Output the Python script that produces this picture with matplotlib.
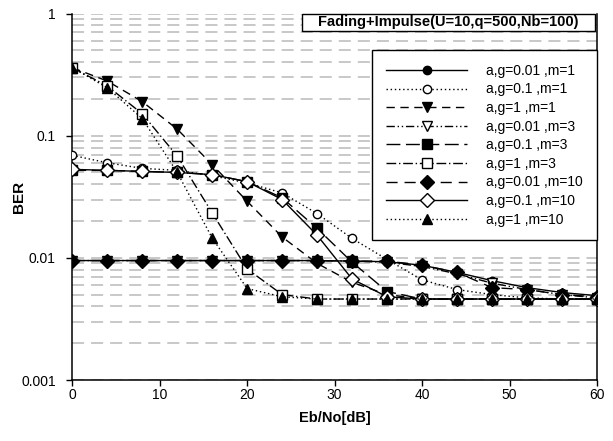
import matplotlib
matplotlib.use("Agg")
import matplotlib.pyplot as plt
from matplotlib.patches import Rectangle

plt.rcParams['font.family'] = ['Liberation Sans', 'DejaVu Sans']

# Eb/No points (dB)
ebno = [0, 4, 8, 12, 16, 20, 24, 28, 32, 36, 40, 44, 48, 52, 56, 60]

labels = ['a,g=0.01 ,m=1', 'a,g=0.1 ,m=1', 'a,g=1 ,m=1',
          'a,g=0.01 ,m=3', 'a,g=0.1 ,m=3', 'a,g=1 ,m=3',
          'a,g=0.01 ,m=10', 'a,g=0.1 ,m=10', 'a,g=1 ,m=10']

ber_g001_m1 = [0.0095, 0.0095, 0.0095, 0.0095, 0.0095, 0.0095, 0.0095, 0.0095,
               0.0094, 0.0093, 0.0087, 0.0076, 0.0065, 0.0057, 0.0052, 0.0049]
ber_g01_m1 = [0.069, 0.060, 0.054, 0.052, 0.047, 0.041, 0.034, 0.023,
              0.0144, 0.0097, 0.0066, 0.0055, 0.0050, 0.0047, 0.0046, 0.0046]
ber_g1_m1 = [0.36, 0.28, 0.19, 0.113, 0.058, 0.029, 0.0148, 0.0090,
             0.0063, 0.0050, 0.0046, 0.0046, 0.0046, 0.0046, 0.0046, 0.0046]
ber_g001_m3 = [0.0095, 0.0095, 0.0095, 0.0095, 0.0095, 0.0095, 0.0095, 0.0095,
               0.0094, 0.0092, 0.0085, 0.0074, 0.0062, 0.0055, 0.0050, 0.0047]
ber_g01_m3 = [0.052, 0.052, 0.051, 0.050, 0.048, 0.042, 0.031, 0.0174,
              0.0092, 0.0053, 0.0046, 0.0046, 0.0046, 0.0046, 0.0046, 0.0046]
ber_g1_m3 = [0.36, 0.255, 0.151, 0.068, 0.0233, 0.0081, 0.0050, 0.0046,
             0.0046, 0.0046, 0.0046, 0.0046, 0.0046, 0.0046, 0.0046, 0.0046]
ber_g001_m10 = [0.0095, 0.0095, 0.0095, 0.0095, 0.0095, 0.0095, 0.0095, 0.0095,
                0.0094, 0.0094, 0.0087, 0.0076, 0.0057, 0.0055, 0.0050, 0.0048]
ber_g01_m10 = [0.053, 0.052, 0.051, 0.050, 0.048, 0.042, 0.030, 0.0153,
               0.0067, 0.0048, 0.0046, 0.0046, 0.0046, 0.0046, 0.0046, 0.0046]
ber_g1_m10 = [0.36, 0.247, 0.138, 0.050, 0.0145, 0.0056, 0.0048, 0.0046,
              0.0046, 0.0046, 0.0046, 0.0046, 0.0046, 0.0046, 0.0046, 0.0046]

series = [ber_g001_m1, ber_g01_m1, ber_g1_m1, ber_g001_m3, ber_g01_m3,
          ber_g1_m3, ber_g001_m10, ber_g01_m10, ber_g1_m10]

# marker, filled, linestyle, markersize
styles = [
    ('o', True, '-', 6),
    ('o', False, (0, (1, 2)), 6),
    ('v', True, (0, (6, 4)), 7.5),
    ('v', False, (0, (6, 2, 1, 2, 1, 2)), 7.5),
    ('s', True, (0, (10, 4)), 6.5),
    ('s', False, (0, (7, 2, 1, 2)), 6.5),
    ('D', True, (0, (8, 5)), 7),
    ('D', False, '-', 7),
    ('^', True, (0, (1, 2)), 7.5),
]

fig = plt.figure(figsize=(6.13, 4.41), dpi=100)
ax = fig.add_axes([72.3 / 613, 1 - 380 / 441, (597 - 72.3) / 613, (380 - 13.5) / 441])

for ys, lab, (mk, filled, ls, ms) in zip(series, labels, styles):
    ax.plot(ebno, ys, color='black', lw=1, ls=ls, marker=mk, ms=ms,
            mfc='black' if filled else 'white', mec='black', mew=1,
            label=lab, zorder=3)

ax.set_yscale('log')
ax.set_ylim(0.001, 1)
ax.set_xlim(0, 60)
ax.set_yticks([0.001, 0.01, 0.1, 1])
ax.set_yticklabels(['0.001', '0.01', '0.1', '1'])
ax.set_xticks(range(0, 61, 10))
ax.tick_params(axis='both', which='major', direction='out', length=4,
               width=1, labelsize=10, colors='black')
ax.tick_params(axis='y', which='major', pad=8)
ax.tick_params(axis='x', which='major', pad=2)
ax.tick_params(axis='y', which='minor', length=0)

ax.yaxis.grid(True, which='both', color='#c8c8c8', lw=1.4, ls=(0, (6.2, 3.6)))
ax.xaxis.grid(False)
ax.set_axisbelow(True)

ax.spines['top'].set_visible(False)
for s in ['left', 'bottom', 'right']:
    ax.spines[s].set_color('black')
    ax.spines[s].set_linewidth(1.1)

ax.set_xlabel('Eb/No[dB]', fontsize=10.5, fontweight='bold', labelpad=6)
ax.set_ylabel('BER', fontsize=11, fontweight='bold')
ax.yaxis.set_label_coords(-0.088, 0.5)

# title box in the upper right corner of the plot area
ax.add_patch(Rectangle((0.4378, 0.951), 0.5584, 0.049, transform=ax.transAxes,
                       facecolor='white', edgecolor='black', lw=1,
                       clip_on=False, zorder=5))
ax.text(0.4378 + 0.5584 / 2, 0.951 + 0.049 / 2, 'Fading+Impulse(U=10,q=500,Nb=100)',
        transform=ax.transAxes, ha='center', va='center', fontsize=10.5,
        fontweight='bold', zorder=6)

leg = ax.legend(loc='upper right', bbox_to_anchor=(1.0, 0.9004),
                bbox_transform=ax.transAxes, borderaxespad=0, fontsize=10,
                handlelength=5.8, handletextpad=1.4, borderpad=1.0,
                labelspacing=0.33, numpoints=1, fancybox=False,
                framealpha=1, edgecolor='black')
leg.get_frame().set_linewidth(1)
leg.set_zorder(5)

fig.savefig('out.png', dpi=100)
